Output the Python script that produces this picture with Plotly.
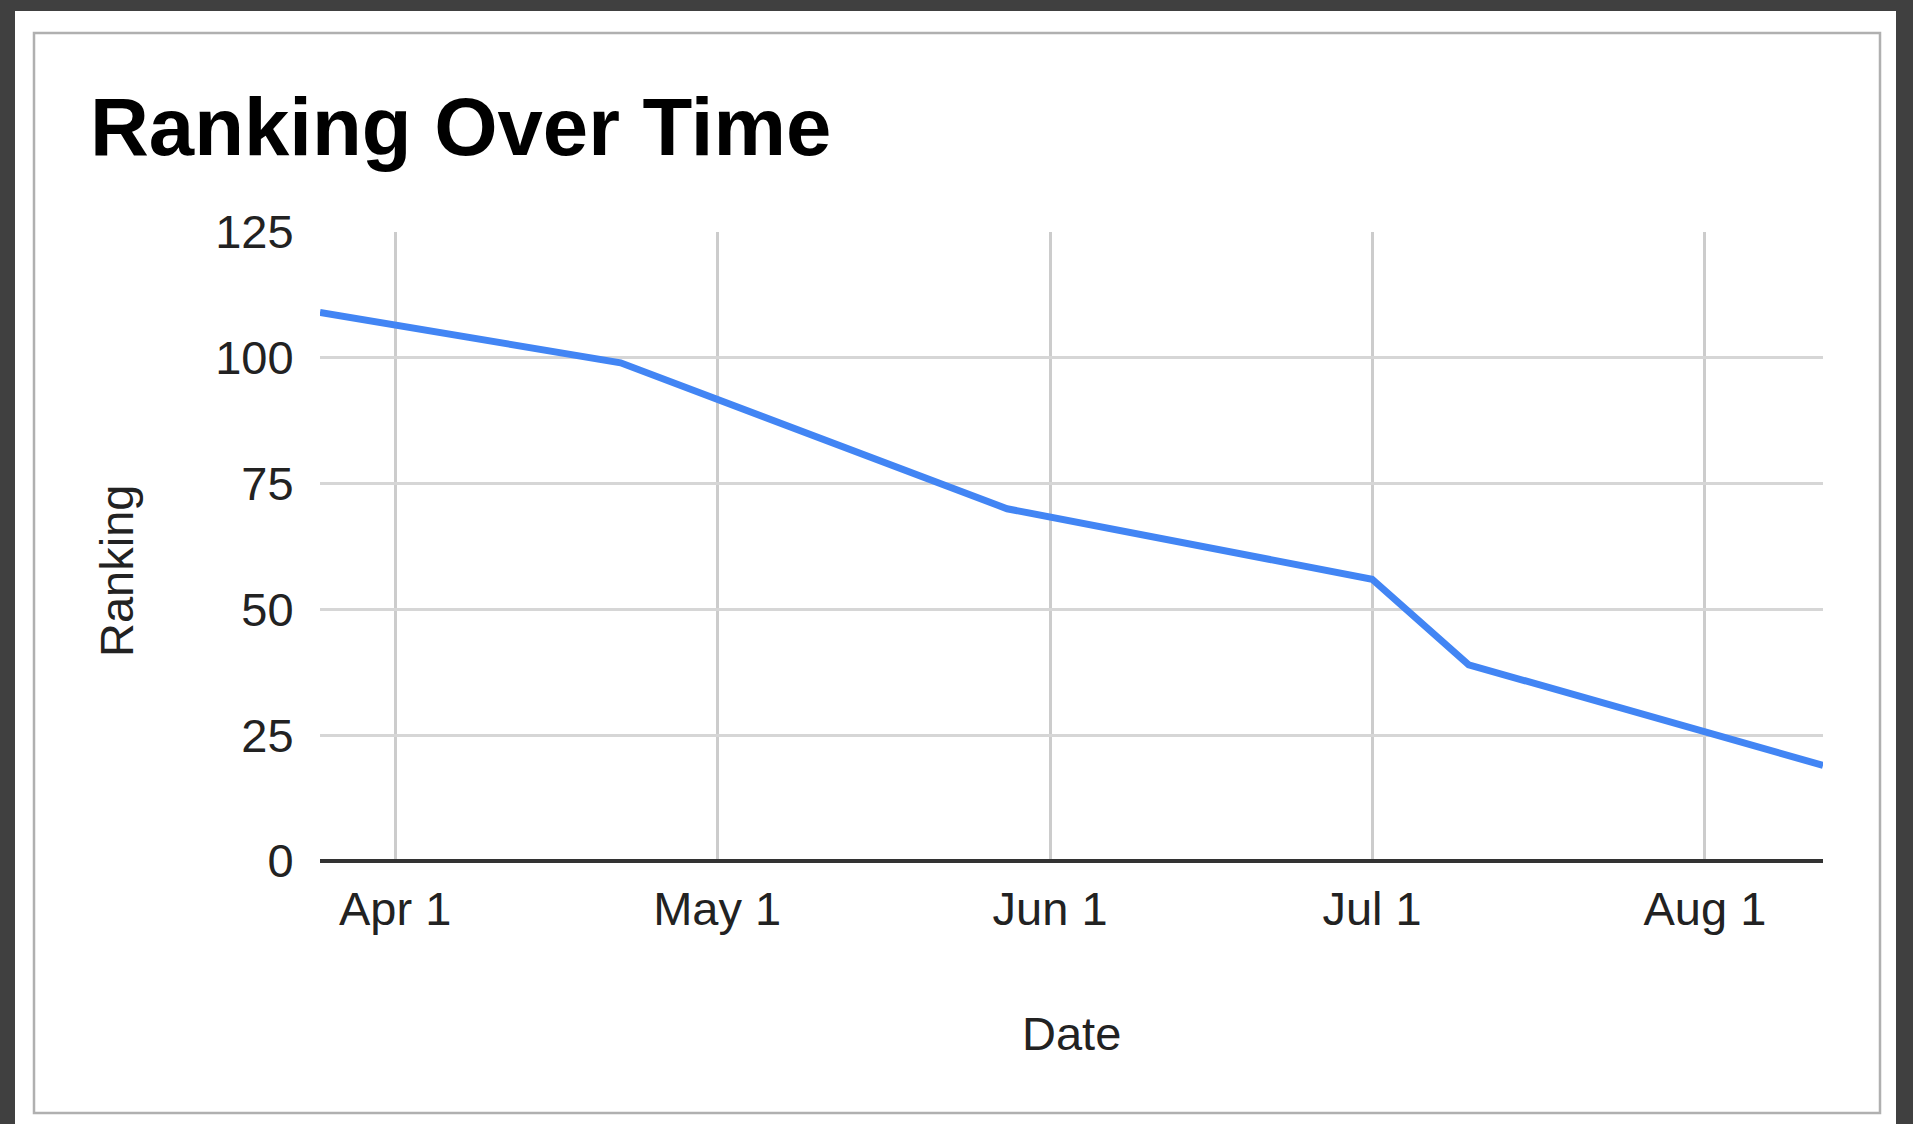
import plotly.graph_objects as go

# ---- data ----
dates = ["2021-03-25", "2021-04-22", "2021-05-28", "2021-07-01", "2021-07-10", "2021-08-12"]
ranking = [109, 99, 70, 56, 39, 19]
y_ticks = [0, 25, 50, 75, 100, 125]
x_tickvals = ["2021-04-01", "2021-05-01", "2021-06-01", "2021-07-01", "2021-08-01"]
x_ticktext = ["Apr 1", "May 1", "Jun 1", "Jul 1", "Aug 1"]

W, H = 1913, 1124
L, R, T, B = 320, 1823, 232, 861  # plot area in pixels
pw, ph = R - L, B - T


def px(x):
    return (x - L) / pw


def py(y):
    return (B - y) / ph


FONT = "Liberation Sans, Arial, sans-serif"

fig = go.Figure()
fig.add_trace(go.Scatter(
    x=dates, y=ranking, mode="lines",
    line=dict(color="#4285F4", width=7),
    hoverinfo="x+y", showlegend=False,
))

shapes = [
    # white card
    dict(type="rect", xref="paper", yref="paper", layer="below",
         x0=px(15), x1=px(1896), y0=py(1124), y1=py(11),
         fillcolor="white", line=dict(width=0)),
    # grey frame
    dict(type="rect", xref="paper", yref="paper", layer="below",
         x0=px(34), x1=px(1880), y0=py(1113), y1=py(33),
         fillcolor="white", line=dict(color="#b0b0b0", width=2.5)),
]

annotations = [
    dict(text="<b>Ranking Over Time</b>", xref="paper", yref="paper",
         x=px(88), y=py(127), xanchor="left", yanchor="middle", showarrow=False,
         font=dict(family=FONT, size=81.5, color="#000000")),
    dict(text="Date", xref="paper", yref="paper",
         x=0.5, y=py(1033), xanchor="center", yanchor="middle", showarrow=False,
         font=dict(family=FONT, size=47, color="#222222")),
    dict(text="Ranking", xref="paper", yref="paper", textangle=-90,
         x=px(116), y=py(571), xanchor="center", yanchor="middle", showarrow=False,
         font=dict(family=FONT, size=47, color="#222222")),
]

fig.update_layout(
    width=W, height=H,
    margin=dict(l=L, r=W - R, t=T, b=H - B, pad=0),
    paper_bgcolor="#404040",
    plot_bgcolor="rgba(0,0,0,0)",
    shapes=shapes,
    annotations=annotations,
    showlegend=False,
    xaxis=dict(
        type="date", range=[dates[0], dates[-1]],
        tickvals=x_tickvals, ticktext=x_ticktext,
        showgrid=True, gridcolor="#cccccc", gridwidth=2.5,
        zeroline=False, showline=False,
        ticks="outside", ticklen=7, tickcolor="rgba(0,0,0,0)",
        tickfont=dict(family=FONT, size=47, color="#222222"),
        automargin=False, fixedrange=True,
    ),
    yaxis=dict(
        range=[0, 125], tickvals=y_ticks,
        showgrid=True, gridcolor="#d6d6d6", gridwidth=3,
        zeroline=True, zerolinecolor="#333333", zerolinewidth=3.5,
        showline=False,
        ticks="outside", ticklen=16, tickcolor="rgba(0,0,0,0)",
        tickfont=dict(family=FONT, size=47, color="#222222"),
        automargin=False, fixedrange=True,
    ),
)

fig.write_html("out.html", config={"displayModeBar": False},
               post_script="document.body.style.margin='0px';document.body.style.overflow='hidden';")
